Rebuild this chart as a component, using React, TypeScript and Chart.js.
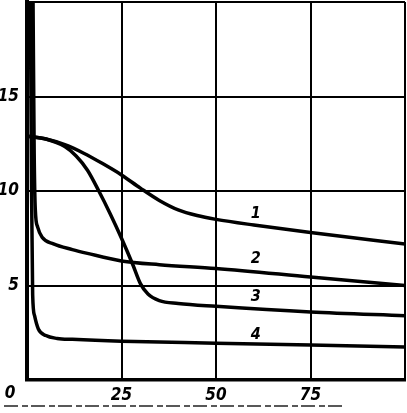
import React, { useEffect, useRef } from "react";
import { Chart, registerables } from "chart.js";

Chart.register(...registerables);

const curve1X = [0, 5, 10, 15, 20, 25, 30, 35, 40, 45, 50, 60, 75, 100];
const curve1Y = [12.9, 12.75, 12.45, 12.0, 11.45, 10.85, 10.15, 9.5, 9.0, 8.7, 8.5, 8.2, 7.8, 7.2];

const curve2X = [1.6, 1.9, 2.2, 2.8, 4, 7, 12, 16, 25, 35, 50, 75, 100];
const curve2Y = [20, 12, 9, 8.1, 7.55, 7.2, 6.9, 6.7, 6.3, 6.1, 5.9, 5.45, 5.0];

const curve3X = [0, 5, 10, 13, 16, 19, 22, 25, 28, 30, 32, 35, 40, 50, 75, 100];
const curve3Y = [12.9, 12.75, 12.35, 11.85, 11.1, 10.0, 8.8, 7.5, 6.1, 5.1, 4.55, 4.2, 4.05, 3.9, 3.6, 3.4];

const curve4X = [0.9, 1.2, 1.5, 2.0, 3.0, 5, 8, 12, 25, 50, 75, 100];
const curve4Y = [20, 10, 4.5, 3.4, 2.7, 2.35, 2.2, 2.15, 2.05, 1.95, 1.85, 1.75];

const curveNames = ["1", "2", "3", "4"];
const curveLabelX = [60.5, 60.5, 60.5, 60.5];
const curveLabelY = [8.8, 6.4, 4.4, 2.4];

const xTicks = [25, 50, 75];
const yTicks = [5, 10, 15];
const originLabel = "0";

const toPoints = (xs: number[], ys: number[]) => xs.map((x, i) => ({ x, y: ys[i] }));

const FONT = "'Liberation Sans Narrow', 'DejaVu Sans Condensed', 'DejaVu Sans', sans-serif";

export default function App() {
  const ref = useRef<HTMLCanvasElement | null>(null);

  useEffect(() => {
    document.body.style.margin = "0";
    document.body.style.background = "#fff";
    const canvas = ref.current;
    if (!canvas) return;

    const labelsPlugin = {
      id: "curveLabels",
      afterDatasetsDraw(chart: any) {
        const ctx = chart.ctx;
        const xs = chart.scales.x;
        const ys = chart.scales.y;
        ctx.save();
        ctx.fillStyle = "#000";
        ctx.font = `italic bold 16px ${FONT}`;
        ctx.textAlign = "center";
        ctx.textBaseline = "middle";
        curveNames.forEach((n, i) => {
          ctx.fillText(n, xs.getPixelForValue(curveLabelX[i]), ys.getPixelForValue(curveLabelY[i]));
        });
        ctx.font = `italic bold 17px ${FONT}`;
        ctx.fillText(originLabel, chart.chartArea.left - 17, chart.chartArea.bottom + 14);
        ctx.strokeStyle = "#222";
        ctx.lineWidth = 1.5;
        ctx.setLineDash([14, 4, 6, 3]);
        ctx.beginPath();
        ctx.moveTo(4, chart.height - 7);
        ctx.lineTo(345, chart.height - 7);
        ctx.stroke();
        ctx.restore();
      },
    };

    const mk = (label: string, xs: number[], ys: number[]) => ({
      label,
      data: toPoints(xs, ys),
      borderColor: "#000",
      borderWidth: 3.5,
      pointRadius: 0,
      fill: false,
      cubicInterpolationMode: "monotone" as const,
    });

    const tickFont = { family: FONT, size: 17, style: "italic" as const, weight: "bold" as const };

    const chart = new Chart(canvas, {
      type: "line",
      data: {
        datasets: [
          mk("1", curve1X, curve1Y),
          mk("2", curve2X, curve2Y),
          mk("3", curve3X, curve3Y),
          mk("4", curve4X, curve4Y),
        ],
      },
      options: {
        responsive: false,
        animation: false,
        events: [],
        layout: { padding: { top: 2, right: 2, left: 0, bottom: 0 } },
        plugins: { legend: { display: false }, tooltip: { enabled: false } },
        scales: {
          x: {
            type: "linear",
            min: 0,
            max: 100,
            afterFit: (s: any) => {
              s.height = 33;
              s.paddingLeft = 0;
              s.paddingRight = 0;
            },
            afterBuildTicks: (s: any) => { s.ticks = [0, ...xTicks, 100].map((v) => ({ value: v })); },
            ticks: {
              color: "#000",
              padding: 5,
              maxRotation: 0,
              font: tickFont,
              callback: (v: any) => (xTicks.includes(Number(v)) ? String(v) : ""),
            },
            grid: { color: "#000", lineWidth: 2, drawTicks: false },
            border: { color: "#000", width: 3.5 },
          },
          y: {
            type: "linear",
            min: 0,
            max: 20,
            afterFit: (s: any) => {
              s.width = 27;
              s.paddingTop = 0;
              s.paddingBottom = 0;
            },
            afterBuildTicks: (s: any) => { s.ticks = [0, ...yTicks, 20].map((v) => ({ value: v })); },
            ticks: {
              color: "#000",
              padding: 8,
              font: tickFont,
              callback: (v: any) => (yTicks.includes(Number(v)) ? String(v) : ""),
            },
            grid: { color: "#000", lineWidth: 2, drawTicks: false },
            border: { color: "#000", width: 4 },
          },
        },
      },
      plugins: [labelsPlugin],
    });

    return () => chart.destroy();
  }, []);

  return (
    <div style={{ width: 407, height: 413, background: "#fff" }}>
      <canvas ref={ref} width={407} height={413} />
    </div>
  );
}
